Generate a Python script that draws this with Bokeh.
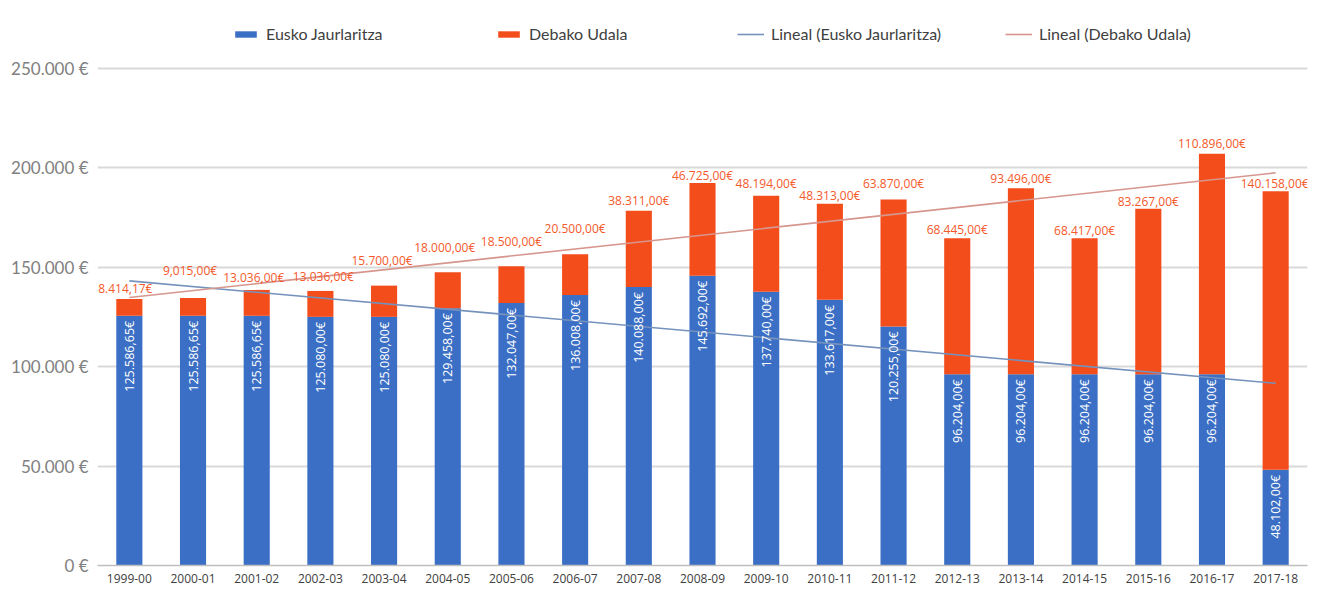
import numpy as np
from bokeh.plotting import figure
from bokeh.models import ColumnDataSource, Legend, LegendItem, FixedTicker, Range1d
from bokeh.embed import file_html
from bokeh.resources import INLINE
from bokeh.core.properties import value

seasons = ["1999-00", "2000-01", "2001-02", "2002-03", "2003-04", "2004-05", "2005-06",
           "2006-07", "2007-08", "2008-09", "2009-10", "2010-11", "2011-12", "2012-13",
           "2013-14", "2014-15", "2015-16", "2016-17", "2017-18"]
eusko = [125586.65, 125586.65, 125586.65, 125080, 125080, 129458, 132047, 136008, 140088,
         145692, 137740, 133617, 120255, 96204, 96204, 96204, 96204, 96204, 48102]
debako = [8414.17, 9015, 13036, 13036, 15700, 18000, 18500, 20500, 38311, 46725, 48194,
          48313, 63870, 68445, 93496, 68417, 83267, 110896, 140158]
eusko_labels = ["125.586,65€", "125.586,65€", "125.586,65€", "125.080,00€", "125.080,00€",
                "129.458,00€", "132.047,00€", "136.008,00€", "140.088,00€", "145.692,00€",
                "137.740,00€", "133.617,00€", "120.255,00€", "96.204,00€", "96.204,00€",
                "96.204,00€", "96.204,00€", "96.204,00€", "48.102,00€"]
debako_labels = ["8.414,17€", "9,015,00€", "13.036,00€", "13.036,00€", "15.700,00€",
                 "18.000,00€", "18.500,00€", "20.500,00€", "38.311,00€", "46.725,00€",
                 "48.194,00€", "48.313,00€", "63.870,00€", "68.445,00€", "93.496,00€",
                 "68.417,00€", "83.267,00€", "110.896,00€", "140.158,00€"]
y_ticks = [0, 50000, 100000, 150000, 200000, 250000]
y_tick_labels = ["0 €", "50.000 €", "100.000 €", "150.000 €", "200.000 €", "250.000 €"]
series_names = ["Eusko Jaurlaritza", "Debako Udala",
                "Lineal (Eusko Jaurlaritza)", "Lineal (Debako Udala)"]

# pixel offsets of the orange labels above the bar tops (layout, not data)
label_lift = [11, 27, 12, 14, 25, 25, 25, 26, 10, 7, 12, 8, 16, 9, 10, 8, 7, 10, 8]
label_shift = [-4, -3, -3, 3, -2, -3, 0, 0, 0, 0, 0, 0, 0, 0, 0, 0, 0, 0, -1]

BLUE = "#3b6fc5"
RED = "#f44d1c"
LABEL_RED = "#f4592b"

totals = [e + d for e, d in zip(eusko, debako)]
idx = np.arange(len(seasons))
fe = np.polyfit(idx, eusko, 1)
ft = np.polyfit(idx, totals, 1)
trend_x = [seasons[0], seasons[-1]]
trend_e = [fe[1] + fe[0] * idx[0], fe[1] + fe[0] * idx[-1]]
trend_t = [ft[1] + ft[0] * idx[0], ft[1] + ft[0] * idx[-1]]

src = ColumnDataSource(dict(
    x=seasons, eusko=eusko, totals=totals, el=eusko_labels, dl=debako_labels,
    lift=[-v for v in label_lift], shift=label_shift))

p = figure(x_range=seasons, y_range=Range1d(0, 284200), width=1321, height=587,
           output_backend="svg", toolbar_location=None,
           min_border_left=97, min_border_right=14, min_border_top=0, min_border_bottom=22)
p.outline_line_color = None
p.background_fill_color = "white"
p.border_fill_color = "white"

r_e = p.vbar(x="x", top="eusko", bottom=0, width=0.41, source=src,
             fill_color=BLUE, line_color=None)
r_d = p.vbar(x="x", top="totals", bottom="eusko", width=0.41, source=src,
             fill_color=RED, line_color=None)

t_e = p.line(trend_x, trend_e, line_color="#7592bd", line_width=1.6)
t_t = p.line(trend_x, trend_t, line_color="#d6968d", line_width=1.6)

p.text(x="x", y="eusko", text="el", source=src, angle=np.pi / 2, text_align="right",
       text_baseline="middle", y_offset=5, text_color="white",
       text_font=value("Open Sans"), text_font_size="12.5px")
p.text(x="x", y="totals", text="dl", source=src, y_offset="lift", x_offset="shift",
       text_align="center", text_baseline="middle", text_color=LABEL_RED,
       text_font=value("Open Sans"), text_font_size="12px")

# axes
p.yaxis.ticker = FixedTicker(ticks=y_ticks)
p.yaxis.major_label_overrides = {t: l for t, l in zip(y_ticks, y_tick_labels)}
p.yaxis.axis_line_color = None
p.yaxis.major_tick_line_color = None
p.yaxis.minor_tick_line_color = None
p.yaxis.major_tick_out = 0
p.yaxis.major_label_standoff = 9
p.yaxis.major_label_text_font = "Lato"
p.yaxis.major_label_text_font_size = "17px"
p.yaxis.major_label_text_color = "#808080"

p.xaxis.axis_line_color = "#bfbfbf"
p.xaxis.axis_line_width = 1.5
p.xaxis.major_tick_line_color = None
p.xaxis.minor_tick_line_color = None
p.xaxis.major_tick_out = 0
p.xaxis.major_label_standoff = 8
p.xaxis.major_label_text_font = "Open Sans"
p.xaxis.major_label_text_font_size = "12px"
p.xaxis.major_label_text_color = "#404040"

p.xgrid.grid_line_color = None
p.ygrid.grid_line_color = "#d9d9d9"
p.ygrid.grid_line_width = 2

legend_x = [135, 398, 640, 908]
for name, rend, lx in zip(series_names, [r_e, r_d, t_e, t_t], legend_x):
    lg = Legend(items=[LegendItem(label=name, renderers=[rend])], location=(lx, 522),
                orientation="horizontal", border_line_color=None,
                background_fill_alpha=0, padding=0, margin=0,
                glyph_width=27, glyph_height=8, label_height=16, label_standoff=7,
                label_text_font="Lato", label_text_font_size="16px",
                label_text_color="#404040")
    p.add_layout(lg)

open("out.html", "w").write(file_html(p, INLINE))
